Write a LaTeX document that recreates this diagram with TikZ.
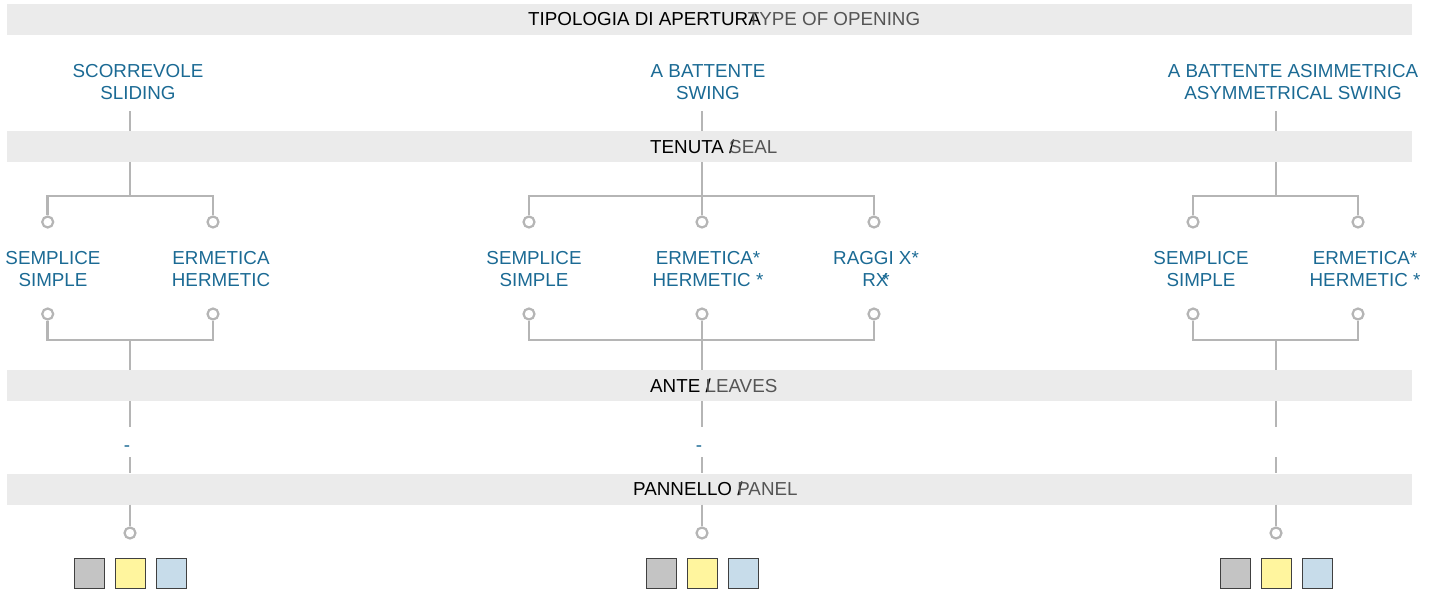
\documentclass[tikz,border=0pt]{standalone}
\usepackage{fontspec}
\setmainfont{Liberation Sans}
\usepackage{xcolor}
\usetikzlibrary{positioning}

\definecolor{bandgray}{HTML}{EBEBEB}
\definecolor{linegray}{HTML}{B5B5B5}
\definecolor{headblue}{HTML}{1B6A94}
\definecolor{engray}{HTML}{555555}
\definecolor{swgray}{HTML}{C4C4C4}
\definecolor{swyellow}{HTML}{FFF59E}
\definecolor{swblue}{HTML}{C7DCEA}

\begin{document}
\begin{tikzpicture}[x=1pt,y=-1pt,
  txt/.style={font=\fontsize{18.8}{22}\selectfont,inner sep=0pt},
  band/.style={fill=bandgray,minimum width=1405pt,minimum height=31pt,inner sep=0pt},
  kind/.style={txt,text=headblue,align=center},
  link/.style={draw=linegray,line width=2.8pt},
  knob/.style={circle,draw=linegray,line width=2.2pt,fill=white,minimum size=11pt,inner sep=0pt},
  swatch/.style={draw=black!75,line width=0.9pt,minimum size=30pt,inner sep=0pt,outer sep=0pt}]

\useasboundingbox (0,0) rectangle (1438,592);

\node[band] (b1) at (709.5,19.5) {};
\node[band] (b2) at (709.5,146.5) {};
\node[band] (b3) at (709.5,385.5) {};
\node[band] (b4) at (709.5,489) {};
\node[txt,anchor=west] (l1) at (528,19.5) {TIPOLOGIA DI APERTURA\kern-13pt\textcolor{engray}{TYPE OF OPENING}};
\node[txt,anchor=west] (l2) at (650,146.5) {TENUTA \rlap{/}\textcolor{engray}{SEAL}};
\node[txt,anchor=west] (l3) at (650,385.5) {ANTE \rlap{/}\textcolor{engray}{LEAVES}};
\node[txt,anchor=west] (l4) at (633,489) {PANNELLO \rlap{/}\textcolor{engray}{PANEL}};

\node[kind] (h1) at (138,82) {SCORREVOLE\\SLIDING};
\node[kind] (h2) at (708,82) {A BATTENTE\\SWING};
\node[kind] (h3) at (1293,82) {A BATTENTE ASIMMETRICA\\ASYMMETRICAL SWING};

\foreach \c/\x in {1/130,2/702,3/1276}{
  \coordinate (a\c) at (\x,111);
  \coordinate (j\c) at (\x,196);
  \coordinate (n\c) at (\x,340);
  \coordinate (g\c) at (\x,427);
  \coordinate (e\c) at (\x,457);
  \node[knob] (p\c) at (\x,533) {};
  \draw[link] (a\c) -- (a\c |- b2.north);
  \draw[link] (a\c |- b2.south) -- (j\c);
  \draw[link] (n\c) -- (n\c |- b3.north);
  \draw[link] (g\c |- b3.south) -- (g\c);
  \draw[link] (e\c) -- (e\c |- b4.north);
  \draw[link] (a\c |- b4.south) -- (p\c);
  \node[swatch,fill=swyellow] (q\c2) at (\x,573.5) {};
  \node[swatch,fill=swgray,left=11pt of q\c2] (q\c1) {};
  \node[swatch,fill=swblue,right=11pt of q\c2] (q\c3) {};
}

% scorrevole
\node[knob] (k11) at (47.7,222) {};
\node[knob] (k12) at (213,222) {};
\node[kind] (s11) at (53,269) {SEMPLICE\\SIMPLE};
\node[kind] (s12) at (221,269) {ERMETICA\\HERMETIC};
\node[knob] (m11) at (47.7,314) {};
\node[knob] (m12) at (213,314) {};
\draw[link] (k11) |- (j1) -| (k12);
\draw[link] (m11) |- (n1) -| (m12);
\node[kind] (d1) at (127,449) {-};

% a battente
\node[knob] (k21) at (529,222) {};
\node[knob] (k22) at (702,222) {};
\node[knob] (k23) at (874,222) {};
\node[kind] (s21) at (534,269) {SEMPLICE\\SIMPLE};
\node[kind] (s22) at (708,269) {ERMETICA*\\HERMETIC *};
\node[kind] (s23) at (876,269) {RAGGI X*\\RX\kern-6pt*};
\node[knob] (m21) at (529,314) {};
\node[knob] (m22) at (702,314) {};
\node[knob] (m23) at (874,314) {};
\draw[link] (k21) |- (j2) -| (k23);
\draw[link] (j2) -- (k22);
\draw[link] (m21) |- (n2) -| (m23);
\draw[link] (m22) -- (n2);
\node[kind] (d2) at (699,449) {-};

% a battente asimmetrica
\node[knob] (k31) at (1193,222) {};
\node[knob] (k32) at (1358,222) {};
\node[kind] (s31) at (1201,269) {SEMPLICE\\SIMPLE};
\node[kind] (s32) at (1365,269) {ERMETICA*\\HERMETIC *};
\node[knob] (m31) at (1193,314) {};
\node[knob] (m32) at (1358,314) {};
\draw[link] (k31) |- (j3) -| (k32);
\draw[link] (m31) |- (n3) -| (m32);
\end{tikzpicture}
\end{document}
